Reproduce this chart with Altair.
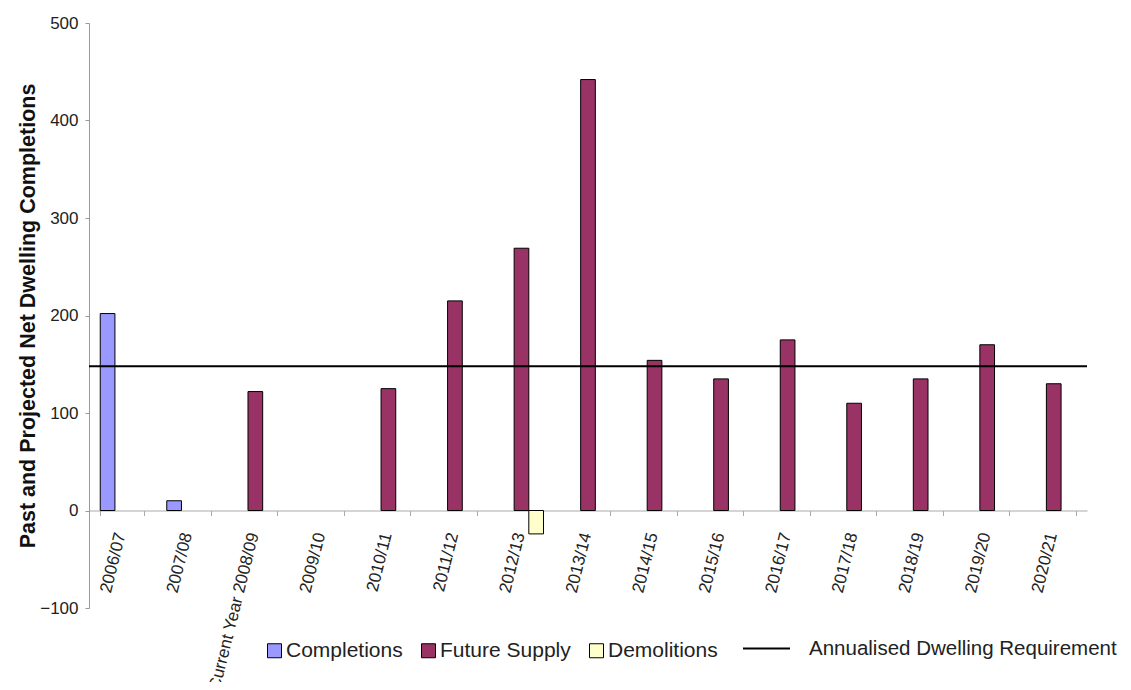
import altair as alt
import pandas as pd

years = ["2006/07", "2007/08", "Current Year 2008/09", "2009/10", "2010/11",
         "2011/12", "2012/13", "2013/14", "2014/15", "2015/16", "2016/17",
         "2017/18", "2018/19", "2019/20", "2020/21"]
completions = [202, 10, None, None, None, None, None, None, None, None, None, None, None, None, None]
future_supply = [None, None, 122, None, 125, 215, 269, 442, 154, 135, 175, 110, 135, 170, 130]
demolitions = [None, None, None, None, None, None, -24, None, None, None, None, None, None, None, None]
series_names = ["Completions", "Future Supply", "Demolitions"]
series_colors = ["#9999FF", "#993366", "#FFFFCC"]
requirement = [148]
requirement_label = ["Annualised Dwelling Requirement"]
y_ticks = [-100, 0, 100, 200, 300, 400, 500]

rows = []
for name, vals in zip(series_names, [completions, future_supply, demolitions]):
    for yr, v in zip(years, vals):
        if v is not None:
            rows.append({"year": yr, "series": name, "value": v})
df = pd.DataFrame(rows)
req_df = pd.DataFrame({"value": requirement, "label": requirement_label})

W, H = 998, 585
FONT = "Liberation Sans"

bars = alt.Chart(df).mark_bar(stroke="black", strokeWidth=1).encode(
    x=alt.X("year:N", sort=years,
            scale=alt.Scale(domain=years, paddingInner=0.338, paddingOuter=0.169),
            axis=alt.Axis(title=None, offset=-H / 6, labelAngle=-76, tickBand="extent",
                          tickSize=5, labelPadding=17, labelFontSize=17, labelColor="#222",
                          labelFont=FONT, domainColor="#aaaaaa", tickColor="#aaaaaa",
                          labelLimit=400, labelOverlap=False, labelOffset=-2, grid=False)),
    xOffset=alt.XOffset("series:N",
                        scale=alt.Scale(domain=series_names, paddingInner=0, paddingOuter=0)),
    y=alt.Y("value:Q", scale=alt.Scale(domain=[-100, 500], nice=False),
            axis=alt.Axis(title="Past and Projected Net Dwelling Completions",
                          values=y_ticks, tickSize=4, labelPadding=7, labelFontSize=17,
                          labelColor="#222", labelFont=FONT, domainColor="#999999",
                          tickColor="#999999", grid=False, titleFontSize=21.5,
                          titleFontWeight="bold", titleColor="#111", titleFont=FONT,
                          titlePadding=0)),
    color=alt.Color("series:N",
                    scale=alt.Scale(domain=series_names, range=series_colors),
                    legend=alt.Legend(title=None, orient="none", legendX=175, legendY=617,
                                      direction="horizontal", symbolType="square",
                                      symbolSize=196, symbolStrokeColor="black",
                                      symbolStrokeWidth=1, labelFontSize=21, labelFont=FONT,
                                      labelColor="#222", labelOffset=1, columnPadding=15,
                                      labelLimit=400, padding=0)),
)

rule = alt.Chart(req_df).mark_rule(strokeWidth=2).encode(
    y=alt.Y("value:Q"),
    stroke=alt.Stroke("label:N",
                      scale=alt.Scale(domain=requirement_label, range=["black"]),
                      legend=alt.Legend(title=None, orient="none", legendX=653, legendY=601,
                                        symbolType="stroke", symbolSize=2209,
                                        symbolStrokeWidth=2, symbolStrokeColor="black",
                                        labelFontSize=20.5, labelFont=FONT, labelColor="#222",
                                        labelOffset=18, labelLimit=400, padding=0)),
)

chart = alt.layer(bars, rule).properties(
    width=W, height=H,
    autosize=alt.AutoSizeParams(type="none"),
    padding={"left": 81, "top": 15, "right": 36, "bottom": 74},
    background="white",
).configure(font=FONT).configure_view(stroke=None)

chart.save("out.html", embed_options={"renderer": "svg", "actions": False})
